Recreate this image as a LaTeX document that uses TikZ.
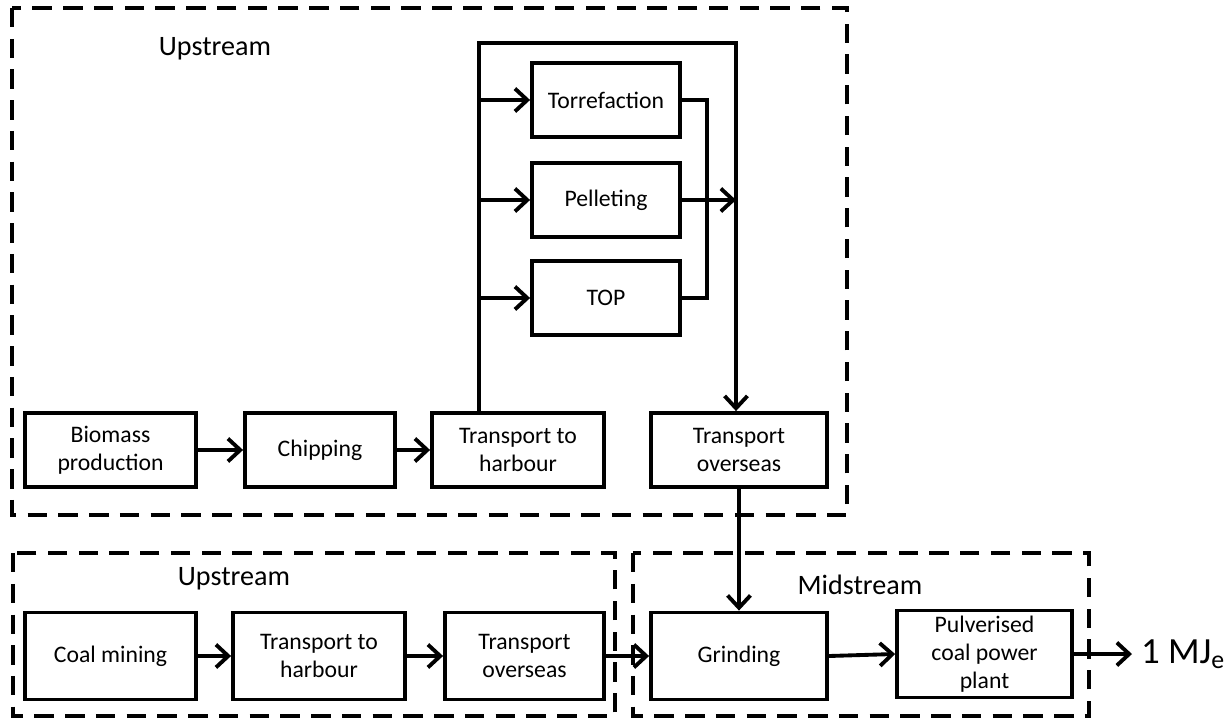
\documentclass[tikz,border=0pt]{standalone}
\usepackage{fontspec}
\setmainfont{Carlito}
\usetikzlibrary{arrows.meta}
\tikzset{
  blk/.style={draw, line width=2.2pt, align=center, inner sep=1pt, font=\fontsize{13.5}{16}\selectfont},
  stage/.style={draw, dash pattern=on 11pt off 6.5pt, line width=2.2pt},
  wire/.style={line width=2.2pt},
  flow/.style={wire, -{Straight Barb[length=7pt,width=13pt]}},
  tag/.style={inner sep=1pt, font=\fontsize{16}{19}\selectfont},
}
\begin{document}
\begin{tikzpicture}[x=0.02cm, y=-0.02cm]
  \useasboundingbox (0,0) rectangle (1231,721);
  % stage frames
  \draw[stage] (12,8) rectangle (847,515);
  \draw[stage] (13,553) rectangle (615,716);
  \draw[stage] (633,553) rectangle (1089,716);
  \node[tag] (upbio) at (215,49) {Upstream};
  \node[tag] (upcoal) at (234,579) {Upstream};
  \node[tag] (mid) at (860,585) {Midstream};
  % biomass chain
  \node[blk, minimum width=3.42cm, minimum height=1.48cm] (bio) at (110.5,450) {Biomass\\production};
  \node[blk, minimum width=3.0cm, minimum height=1.48cm] (chip) at (320,450) {Chipping};
  \node[blk, minimum width=3.44cm, minimum height=1.48cm] (harb) at (518,450) {Transport to\\harbour};
  \node[blk, minimum width=3.52cm, minimum height=1.48cm] (over) at (739,450) {Transport\\overseas};
  % pretreatment options
  \node[blk, minimum width=2.96cm, minimum height=1.48cm] (torr) at (606,100) {Torrefaction};
  \node[blk, minimum width=2.96cm, minimum height=1.48cm] (pell) at (606,200) {Pelleting};
  \node[blk, minimum width=2.96cm, minimum height=1.48cm] (top) at (606,298) {TOP};
  % coal chain
  \node[blk, minimum width=3.42cm, minimum height=1.74cm] (coal) at (110.5,656) {Coal mining};
  \node[blk, minimum width=3.44cm, minimum height=1.74cm] (charb) at (319,656) {Transport to\\harbour};
  \node[blk, minimum width=3.18cm, minimum height=1.74cm] (cover) at (524.5,656) {Transport\\overseas};
  % midstream
  \node[blk, minimum width=3.52cm, minimum height=1.74cm] (grind) at (739,656) {Grinding};
  \node[blk, minimum width=3.5cm, minimum height=1.74cm] (plant) at (984.5,654) {Pulverised\\coal power\\plant};
  \node[tag, anchor=west, inner sep=5pt, font=\fontsize{21}{25}\selectfont] (mj) at (1132,654) {1 MJ\textsubscript{e}};
  % connectors
  \coordinate (tl) at (479,43);
  \coordinate (tr) at (736,43);
  \coordinate (cr) at (707,0);
  \draw[flow] (bio) -- (chip);
  \draw[flow] (chip) -- (harb);
  \draw[flow] (harb.north -| tl) -- (tl) -- (tr) -- (tr |- over.north);
  \draw[flow] (tl |- torr.west) -- (torr.west);
  \draw[flow] (tl |- pell.west) -- (pell.west);
  \draw[flow] (tl |- top.west) -- (top.west);
  \draw[wire] (torr.east) -- (torr.east -| cr) -- (top.east -| cr) -- (top.east);
  \draw[flow] (pell.east) -- (pell.east -| tr);
  \draw[flow] (over.south) -- (grind.north);
  \draw[flow] (coal) -- (charb);
  \draw[flow] (charb) -- (cover);
  \draw[flow] (cover) -- (grind);
  \draw[flow] (grind.east) -- (plant.west);
  \draw[flow] (plant.east) -- (mj.west);
\end{tikzpicture}
\end{document}
